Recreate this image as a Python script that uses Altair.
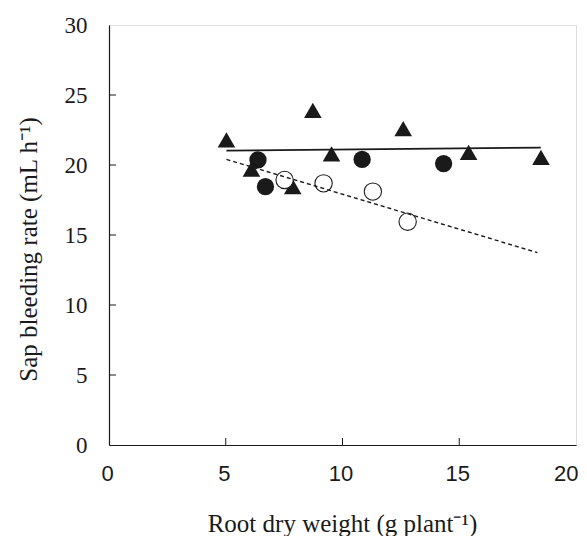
import altair as alt
import pandas as pd

# Data
tri_x = [5.03, 6.1, 7.87, 8.73, 9.53, 12.6, 15.4, 18.5]
tri_y = [21.8, 19.7, 18.45, 23.9, 20.8, 22.6, 20.9, 20.55]

dot_x = [6.38, 6.7, 10.84, 14.33]
dot_y = [20.36, 18.45, 20.4, 20.1]

open_x = [7.52, 9.19, 11.3, 12.79]
open_y = [18.93, 18.69, 18.1, 15.95]

solid_x = [5.03, 18.49]
solid_y = [21.02, 21.24]

dash_x = [5.03, 18.35]
dash_y = [20.4, 13.74]

x_ticks = [5, 10, 15]
y_ticks = [5, 10, 15, 20, 25]

W, H = 467, 420
INK = "#1a1a1a"

xs = alt.Scale(domain=[0, 20], nice=False, zero=False)
ys = alt.Scale(domain=[0, 30], nice=False, zero=False)

xaxis = alt.Axis(
    values=[0, 5, 10, 15, 20], ticks=False, grid=False, labelPadding=18,
    labelFlush=False, labelOverlap=False,
    labelAlign={"condition": {"test": "datum.value === 20", "value": "right"}, "value": "center"},
    labelOffset={"condition": {"test": "datum.value === 20", "value": 2}, "value": -2},
    labelFont="Liberation Sans", labelFontSize=22, labelColor=INK,
    domainColor=INK, domainWidth=1.2,
    title="Root dry weight (g plant⁻¹)", titleFont="Liberation Serif",
    titleFontSize=25, titleFontWeight="normal", titleColor=INK,
    titleX=233, titleY=86, titleBaseline="alphabetic",
)
yaxis = alt.Axis(
    values=[0, 5, 10, 15, 20, 25, 30], ticks=False, grid=False, labelPadding=22,
    labelFlush=False, labelOverlap=False,
    labelFont="Liberation Serif", labelFontSize=23, labelColor=INK,
    domainColor=INK, domainWidth=1.2,
    title="Sap bleeding rate (mL h⁻¹)", titleFont="Liberation Serif",
    titleFontSize=25, titleFontWeight="normal", titleColor=INK,
    titleX=-81, titleY=224, titleBaseline="middle", titleAngle=-90,
)

tri_df = pd.DataFrame({"x": tri_x, "y": tri_y})
dot_df = pd.DataFrame({"x": dot_x, "y": dot_y})
open_df = pd.DataFrame({"x": open_x, "y": open_y})
solid_df = pd.DataFrame({"x": solid_x, "y": solid_y})
dash_df = pd.DataFrame({"x": dash_x, "y": dash_y})
xt_df = pd.DataFrame({"v": x_ticks})
yt_df = pd.DataFrame({"v": y_ticks})

base_enc = dict(
    x=alt.X("x:Q", scale=xs, axis=xaxis),
    y=alt.Y("y:Q", scale=ys, axis=yaxis),
)

tri = alt.Chart(tri_df).mark_point(
    shape="triangle-up", filled=True, color=INK, size=310, opacity=1
).encode(**base_enc)

dots = alt.Chart(dot_df).mark_point(
    shape="circle", filled=True, color=INK, size=300, opacity=1
).encode(x=alt.X("x:Q", scale=xs), y=alt.Y("y:Q", scale=ys))

opens = alt.Chart(open_df).mark_point(
    shape="circle", filled=False, stroke=INK, fill="white", size=300,
    strokeWidth=1.1, opacity=1
).encode(x=alt.X("x:Q", scale=xs), y=alt.Y("y:Q", scale=ys))

solid = alt.Chart(solid_df).mark_line(color=INK, strokeWidth=1.8).encode(
    x=alt.X("x:Q", scale=xs), y=alt.Y("y:Q", scale=ys)
)
dash = alt.Chart(dash_df).mark_line(
    color=INK, strokeWidth=1.4, strokeDash=[4, 3]
).encode(x=alt.X("x:Q", scale=xs), y=alt.Y("y:Q", scale=ys))

xt = alt.Chart(xt_df).mark_rule(color=INK, strokeWidth=1).encode(
    x=alt.X("v:Q", scale=xs), y=alt.value(H), y2=alt.value(H - 7)
)
yt = alt.Chart(yt_df).mark_rule(color=INK, strokeWidth=1).encode(
    y=alt.Y("v:Q", scale=ys), x=alt.value(0), x2=alt.value(7)
)

chart = alt.layer(tri, dots, opens, solid, dash, xt, yt).properties(
    width=W, height=H,
    autosize=alt.AutoSizeParams(type="none"),
    padding={"left": 101, "top": 17, "right": 3, "bottom": 91},
).configure_view(stroke=INK, strokeWidth=1.2).configure(background="white")

chart.save("out.html", embed_options={"renderer": "svg", "actions": False})
